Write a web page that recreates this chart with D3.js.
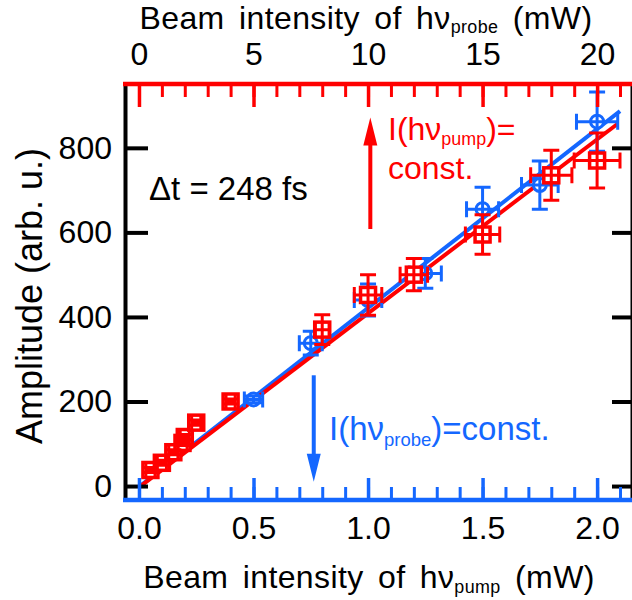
<!DOCTYPE html>
<html>
<head>
<meta charset="utf-8">
<script src="https://cdn.jsdelivr.net/npm/d3@7"></script>
<style>
  body { margin: 0; background: #fff; }
  svg text { font-family: "Liberation Sans", Arial, sans-serif; }
</style>
</head>
<body>
<svg id="chart" width="632" height="600"></svg>
<script>
// ---- data ----
// blue: amplitude vs pump intensity (bottom axis, mW), probe const.
const pumpX      = [0.5, 0.75, 1.0, 1.25, 1.5, 1.75, 2.0];
const pumpAmp    = [205, 338, 440, 503, 655, 712, 862];
const pumpAmpErr = [8, 28, 38, 35, 52, 57, 70];
const pumpXErr   = [0.04, 0.05, 0.06, 0.07, 0.07, 0.08, 0.09];
// red: amplitude vs probe intensity (top axis, mW), pump const.
const probeX      = [0.5, 1.0, 1.5, 1.9, 2.0, 2.5, 4, 8, 10, 12, 15, 18, 20];
const probeAmp    = [38, 55, 80, 102, 116, 150, 200, 370, 452, 500, 595, 735, 770];
const probeAmpErr = [6, 6, 6, 6, 6, 6, 6, 35, 48, 38, 47, 59, 65];
const probeXErr   = [0.2, 0.2, 0.2, 0.2, 0.2, 0.2, 0.2, 0.3, 0.6, 0.6, 0.75, 0.9, 1.0];
// linear fits (end points)
const pumpFitX  = [0.0, 2.1];
const pumpFitY  = [-2, 887];
const probeFitX = [0.0, 20.9];
const probeFitY = [-3, 857];
// ticks
const pumpTicks = [0, 0.5, 1.0, 1.5, 2.0];
const pumpMinor = d3.range(0, 22).map(i => i / 10);
const probeTicks = [0, 5, 10, 15, 20];
const probeMinor = d3.range(0, 22);
const ampTicks = [0, 200, 400, 600, 800];

const RED = "#ff0000", BLUE = "#1467ff";
const svg = d3.select("#chart");
const L = 125, R = 631, T = 84, B = 500;

const xPump  = d3.scaleLinear().domain([-0.061, 2.148]).range([L, R]);
const xProbe = d3.scaleLinear().domain([-0.61, 21.48]).range([L, R]);
const y      = d3.scaleLinear().domain([-33, 951]).range([B, T]);

// ---- fit lines ----
const line = d3.line();
svg.append("path")
  .attr("d", line(pumpFitX.map((v, i) => [xPump(v), y(pumpFitY[i])])))
  .attr("stroke", BLUE).attr("stroke-width", 4).attr("fill", "none");
svg.append("path")
  .attr("d", line(probeFitX.map((v, i) => [xProbe(v), y(probeFitY[i])])))
  .attr("stroke", RED).attr("stroke-width", 4).attr("fill", "none");

// ---- markers + error bars ----
function drawSeries(xs, ys, xe, ye, xs_scale, color, shape) {
  const g = svg.append("g");
  xs.forEach((xv, i) => {
    const cx = xs_scale(xv), cy = y(ys[i]);
    if (shape === "circle") {
      g.append("circle").attr("cx", cx).attr("cy", cy).attr("r", 6.5)
        .attr("fill", "#fff").attr("stroke", color).attr("stroke-width", 3);
    } else {
      g.append("rect").attr("x", cx - 7.5).attr("y", cy - 7.5).attr("width", 15).attr("height", 15)
        .attr("fill", "#fff").attr("stroke", color).attr("stroke-width", 3.5);
    }
  });
  xs.forEach((xv, i) => {
    const cx = xs_scale(xv), cy = y(ys[i]);
    const y0 = y(ys[i] - ye[i]), y1 = y(ys[i] + ye[i]);
    const x0 = xs_scale(xv - xe[i]), x1 = xs_scale(xv + xe[i]);
    const cap = 8;
    const p = d3.path();
    p.moveTo(cx, y0); p.lineTo(cx, y1);
    p.moveTo(cx - cap, y0); p.lineTo(cx + cap, y0);
    p.moveTo(cx - cap, y1); p.lineTo(cx + cap, y1);
    p.moveTo(x0, cy); p.lineTo(x1, cy);
    p.moveTo(x0, cy - cap); p.lineTo(x0, cy + cap);
    p.moveTo(x1, cy - cap); p.lineTo(x1, cy + cap);
    g.append("path").attr("d", p.toString()).attr("stroke", color)
      .attr("stroke-width", 3).attr("fill", "none");
  });
}
drawSeries(pumpX, pumpAmp, pumpXErr, pumpAmpErr, xPump, BLUE, "circle");
drawSeries(probeX, probeAmp, probeXErr, probeAmpErr, xProbe, RED, "square");

// ---- axes ----
const FONT = "Liberation Sans, Arial, sans-serif";
// left (black)
const leftAx = svg.append("g").attr("transform", `translate(${L},0)`)
  .call(d3.axisLeft(y).tickValues(ampTicks).tickSizeInner(-23).tickSizeOuter(0).tickPadding(13));
leftAx.select(".domain").attr("stroke", "#000").attr("stroke-width", 4);
leftAx.selectAll(".tick line").attr("stroke", "#000").attr("stroke-width", 4);
leftAx.selectAll(".tick text").attr("font-size", 32).attr("fill", "#000").attr("font-family", FONT);
// right (black, ticks only)
const rightAx = svg.append("g").attr("transform", `translate(${R},0)`)
  .call(d3.axisRight(y).tickValues(ampTicks).tickSizeInner(-19).tickSizeOuter(0).tickFormat(""));
rightAx.select(".domain").attr("stroke", "#000").attr("stroke-width", 2);
rightAx.selectAll(".tick line").attr("stroke", "#000").attr("stroke-width", 4);

// bottom (blue)
const botMinor = svg.append("g").attr("transform", `translate(0,${B})`)
  .call(d3.axisBottom(xPump).tickValues(pumpMinor).tickSizeInner(-13).tickSizeOuter(0).tickFormat(""));
botMinor.select(".domain").remove();
botMinor.selectAll(".tick line").attr("stroke", BLUE).attr("stroke-width", 3);
const botAx = svg.append("g").attr("transform", `translate(0,${B})`)
  .call(d3.axisBottom(xPump).tickValues(pumpTicks).tickFormat(d3.format(".1f"))
    .tickSizeInner(-22).tickSizeOuter(0).tickPadding(16));
botAx.select(".domain").attr("stroke", BLUE).attr("stroke-width", 4.5)
  .attr("d", `M${L - 2},0H${R + 2}`);
botAx.selectAll(".tick line").attr("stroke", BLUE).attr("stroke-width", 3.5);
botAx.selectAll(".tick text").attr("font-size", 32).attr("fill", "#000").attr("font-family", FONT);

// top (red)
const topMinor = svg.append("g").attr("transform", `translate(0,${T})`)
  .call(d3.axisTop(xProbe).tickValues(probeMinor).tickSizeInner(-13).tickSizeOuter(0).tickFormat(""));
topMinor.select(".domain").remove();
topMinor.selectAll(".tick line").attr("stroke", RED).attr("stroke-width", 3);
const topAx = svg.append("g").attr("transform", `translate(0,${T})`)
  .call(d3.axisTop(xProbe).tickValues(probeTicks).tickSizeInner(-23).tickSizeOuter(0).tickPadding(19));
topAx.select(".domain").attr("stroke", RED).attr("stroke-width", 4.5)
  .attr("d", `M${L - 2},0H${R + 2}`);
topAx.selectAll(".tick line").attr("stroke", RED).attr("stroke-width", 3.5);
topAx.selectAll(".tick text").attr("font-size", 32).attr("fill", "#000").attr("font-family", FONT);

// ---- titles ----
function subText(x, yb, main, sub, tail, size, color, anchor, shift) {
  const s = shift || 6;
  const t = svg.append("text").attr("x", x).attr("y", yb).attr("font-size", size)
    .attr("fill", color).attr("text-anchor", anchor || "start");
  t.append("tspan").text(main);
  t.append("tspan").text(sub).attr("font-size", size * 0.56).attr("dy", s);
  t.append("tspan").text(tail).attr("dy", -s);
  return t;
}
subText(366, 29, "Beam intensity of hν", "probe", " (mW)", 32, "#000", "middle", 4)
  .attr("word-spacing", 5).attr("letter-spacing", 0.4);
subText(369, 588, "Beam intensity of hν", "pump", " (mW)", 32, "#000", "middle", 5)
  .attr("word-spacing", 5).attr("letter-spacing", 0.4);

svg.append("text").attr("transform", `translate(42,296) rotate(-90)`)
  .attr("text-anchor", "middle").attr("font-size", 36).attr("fill", "#000")
  .text("Amplitude (arb. u.)");

// ---- annotations ----
svg.append("text").attr("x", 149).attr("y", 200).attr("font-size", 33).attr("fill", "#000")
  .text("Δt = 248 fs");

// red arrow (up)
const ra = { x: xProbe(10.1), y0: y(608), y1: y(872) };
svg.append("line").attr("x1", ra.x).attr("x2", ra.x).attr("y1", ra.y0).attr("y2", ra.y1 + 20)
  .attr("stroke", RED).attr("stroke-width", 4);
svg.append("path").attr("d", `M${ra.x},${ra.y1}L${ra.x - 7},${ra.y1 + 28}L${ra.x + 7},${ra.y1 + 28}Z`)
  .attr("fill", RED);
subText(388, 140, "I(hν", "pump", ")=", 32, RED, "start", 5);
svg.append("text").attr("x", 388).attr("y", 179).attr("font-size", 32).attr("fill", RED).text("const.");

// blue arrow (down)
const ba = { x: xPump(0.763), y0: y(262), y1: y(10) };
svg.append("line").attr("x1", ba.x).attr("x2", ba.x).attr("y1", ba.y0).attr("y2", ba.y1 - 20)
  .attr("stroke", BLUE).attr("stroke-width", 4);
svg.append("path").attr("d", `M${ba.x},${ba.y1}L${ba.x - 7},${ba.y1 - 28}L${ba.x + 7},${ba.y1 - 28}Z`)
  .attr("fill", BLUE);
subText(329, 440, "I(hν", "probe", ")=const.", 33, BLUE);
</script>
</body>
</html>
